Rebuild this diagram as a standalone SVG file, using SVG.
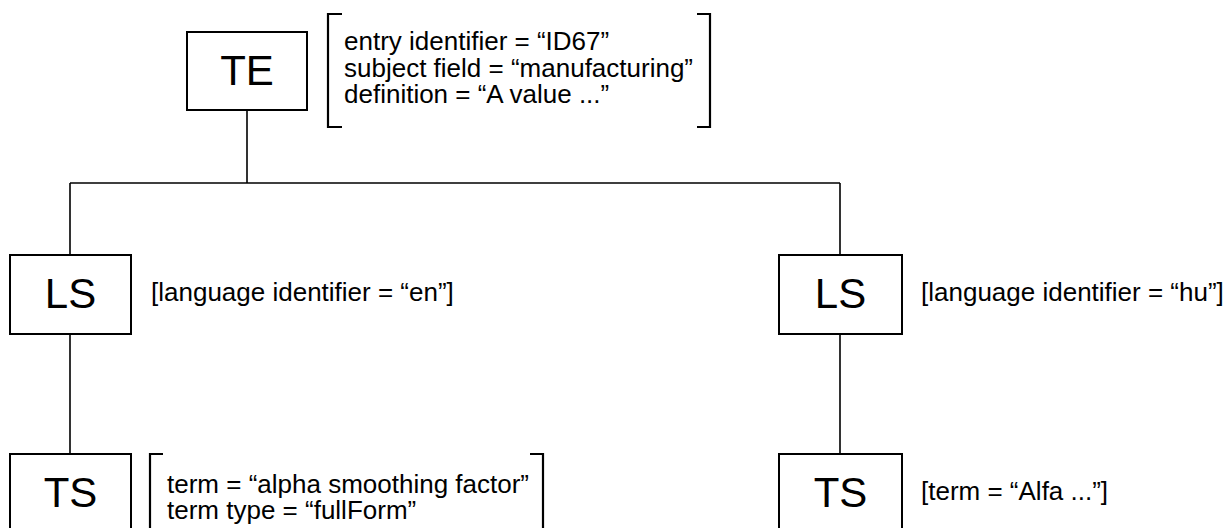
<svg xmlns="http://www.w3.org/2000/svg" width="1227" height="528" viewBox="0 0 1227 528">
<style>
.box{fill:#fff;stroke:#000;stroke-width:2}
.ln{fill:none;stroke:#000;stroke-width:1.6}
.br{fill:none;stroke:#000;stroke-width:2.2}
.big{font-family:"Liberation Sans",Arial,sans-serif;font-size:42px;fill:#000;text-anchor:middle}
.t{font-family:"Liberation Sans",Arial,sans-serif;font-size:26px;fill:#000}
</style>
<rect width="1227" height="528" fill="#fff"/>
<g id="connectors">
<path class="ln" d="M247,110 V183 M70,183 H840 M70,183 V255 M840,183 V255 M70,334 V454 M840,334 V454"/>
</g>
<g id="TE">
<rect class="box" x="187" y="32" width="120" height="78"/>
<text class="big" x="247" y="85">TE</text>
<path class="br" d="M342,14 H328 V127 H342 M697,14 H710 V127 H697"/>
<text class="t" x="344" y="50">entry identifier = “ID67”</text>
<text class="t" x="344" y="76.5">subject field = “manufacturing”</text>
<text class="t" x="344" y="103">definition = “A value ...”</text>
</g>
<g id="LS-en">
<rect class="box" x="10" y="255" width="121" height="79"/>
<text class="big" x="70.5" y="308">LS</text>
<text class="t" x="151" y="301">[language identifier = “en”]</text>
</g>
<g id="LS-hu">
<rect class="box" x="779" y="255" width="123" height="79"/>
<text class="big" x="840.5" y="308">LS</text>
<text class="t" x="921" y="301">[language identifier = “hu”]</text>
</g>
<g id="TS-en">
<rect class="box" x="10" y="454" width="121" height="79"/>
<text class="big" x="70.5" y="507">TS</text>
<path class="br" d="M163,454 H150 V545 M530,454 H543 V545"/>
<text class="t" x="167" y="493">term = “alpha smoothing factor”</text>
<text class="t" x="167" y="519">term type = “fullForm”</text>
</g>
<g id="TS-hu">
<rect class="box" x="779" y="454" width="123" height="79"/>
<text class="big" x="840.5" y="507">TS</text>
<text class="t" x="921" y="500">[term = “Alfa ...”]</text>
</g>
</svg>
